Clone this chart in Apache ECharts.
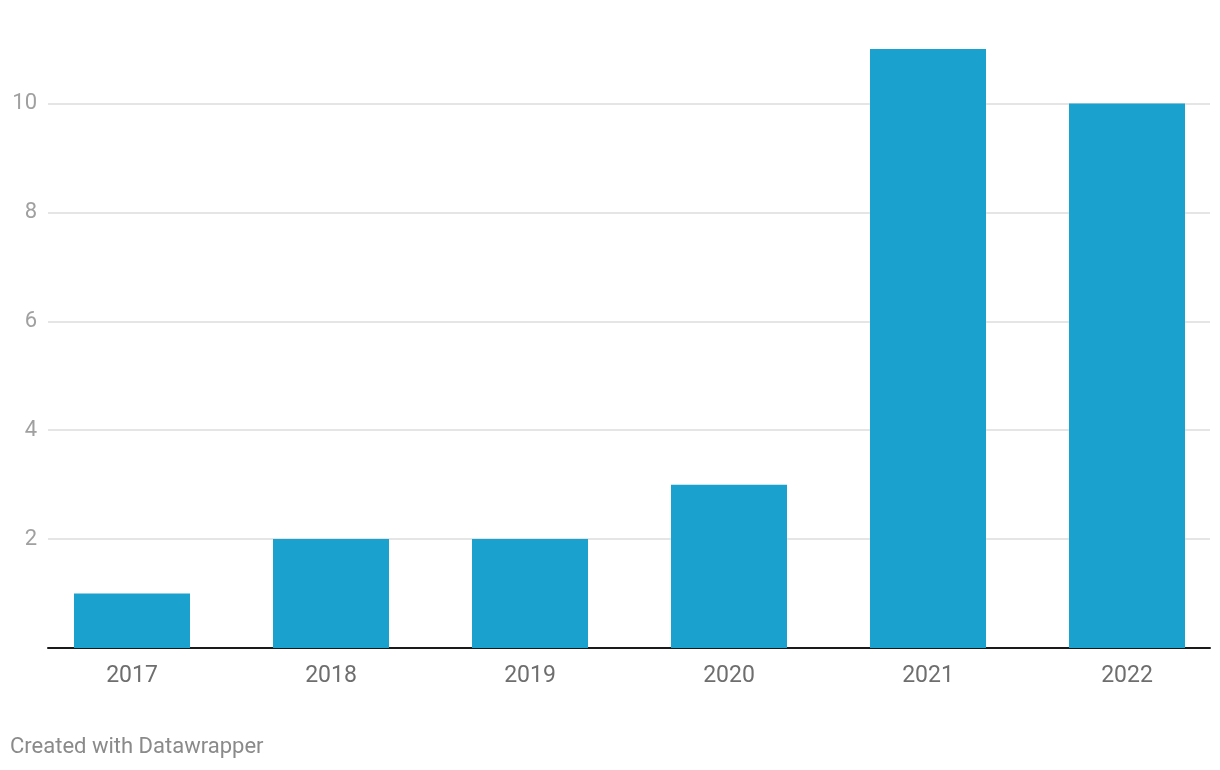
<!DOCTYPE html>
<html>
<head>
<meta charset="utf-8">
<script src="https://cdn.jsdelivr.net/npm/echarts@6/dist/echarts.min.js"></script>
<style>
html,body{margin:0;padding:0;background:#fff;}
#chart{width:1220px;height:770px;}
</style>
</head>
<body>
<div id="chart"></div>
<script>
const categories = ['2017', '2018', '2019', '2020', '2021', '2022'];
const values = [1, 2, 2, 3, 11, 10];
const yTicks = [0, 2, 4, 6, 8, 10];
const footerText = 'Created with Datawrapper';

const chart = echarts.init(document.getElementById('chart'));
const FONT = 'Roboto';
const gridTop = 49, gridBottom = 122;
const option = {
  animation: false,
  backgroundColor: '#ffffff',
  grid: [
    { left: 48, right: 10, top: gridTop, bottom: gridBottom, outerBoundsMode: 'none' },
    { left: 32.5, width: 1194, top: gridTop, bottom: gridBottom, outerBoundsMode: 'none' }
  ],
  xAxis: [
    {
      type: 'category', gridIndex: 0, data: categories,
      axisLine: { show: true, lineStyle: { color: '#1a1a1a', width: 2 } },
      axisTick: { show: false }, axisLabel: { show: false }, splitLine: { show: false }
    },
    {
      type: 'category', gridIndex: 1, data: categories,
      axisLine: { show: false }, axisTick: { show: false },
      axisLabel: { color: '#6e6e6e', fontFamily: FONT, fontSize: 23, margin: 17 }
    }
  ],
  yAxis: [
    {
      type: 'value', gridIndex: 0, min: 0, max: 11, interval: 2,
      axisLine: { show: false }, axisTick: { show: false },
      axisLabel: {
        color: '#a0a0a0', fontFamily: FONT, fontSize: 22, margin: 11,
        showMaxLabel: false,
        formatter: v => (yTicks.includes(v) && v !== 0) ? String(v) : ''
      },
      splitLine: { show: true, showMaxLine: false, lineStyle: { color: '#e5e5e5', width: 2 } }
    },
    {
      type: 'value', gridIndex: 1, min: 0, max: 11, interval: 2, show: false,
      splitLine: { show: false }
    }
  ],
  series: [
    {
      type: 'bar', xAxisIndex: 1, yAxisIndex: 1, data: values,
      barWidth: 116, itemStyle: { color: '#1aa1cd' }, z: 1
    }
  ],
  graphic: [
    {
      type: 'text', left: 10, top: 736,
      style: { text: footerText, fill: '#8a8a8a', font: '22px Roboto' }
    }
  ]
};
chart.setOption(option);
</script>
</body>
</html>
